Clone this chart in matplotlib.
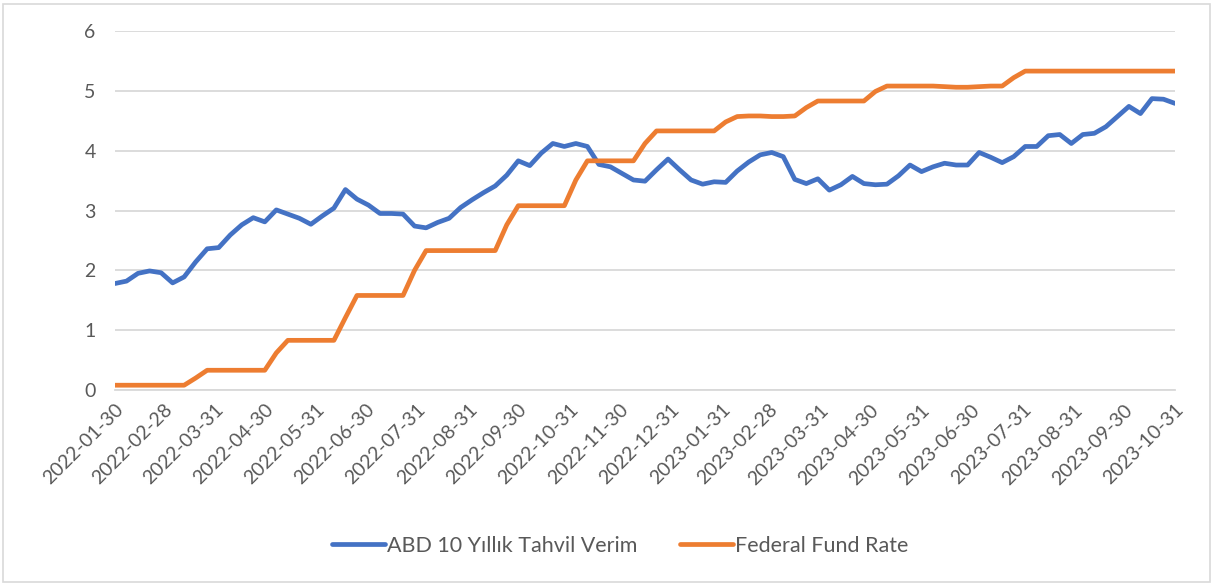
import matplotlib
matplotlib.use("Agg")
import matplotlib.pyplot as plt
import matplotlib.patches as patches
import pandas as pd
import numpy as np

# ---- data ----
start_date = "2022-01-30"
end_date = "2023-10-31"
n_points = 93

treasury_10y = [1.78, 1.82, 1.95, 1.99, 1.96, 1.79, 1.89, 2.14, 2.36, 2.38,
                2.59, 2.76, 2.88, 2.81, 3.01, 2.94, 2.87, 2.77, 2.91, 3.04,
                3.35, 3.19, 3.09, 2.95, 2.95, 2.94, 2.74, 2.71, 2.80, 2.87,
                3.05, 3.18, 3.30, 3.41, 3.59, 3.83, 3.75, 3.96, 4.12, 4.07,
                4.12, 4.07, 3.77, 3.73, 3.62, 3.51, 3.49, 3.68, 3.86, 3.68,
                3.51, 3.44, 3.48, 3.47, 3.66, 3.81, 3.93, 3.97, 3.90, 3.52,
                3.45, 3.53, 3.34, 3.43, 3.57, 3.45, 3.43, 3.44, 3.58, 3.76,
                3.65, 3.73, 3.79, 3.76, 3.76, 3.97, 3.89, 3.80, 3.90, 4.07,
                4.07, 4.25, 4.27, 4.12, 4.27, 4.29, 4.40, 4.57, 4.74, 4.62,
                4.87, 4.86, 4.79]

fed_funds = [0.08, 0.08, 0.08, 0.08, 0.08, 0.08, 0.08, 0.20,
             0.33, 0.33, 0.33, 0.33, 0.33, 0.33, 0.62,
             0.83, 0.83, 0.83, 0.83, 0.83, 1.21,
             1.58, 1.58, 1.58, 1.58, 1.58, 2.00,
             2.33, 2.33, 2.33, 2.33, 2.33, 2.33, 2.33, 2.76,
             3.08, 3.08, 3.08, 3.08, 3.08, 3.51,
             3.83, 3.83, 3.83, 3.83, 3.83, 4.12,
             4.33, 4.33, 4.33, 4.33, 4.33, 4.33, 4.48,
             4.57, 4.58, 4.58, 4.57, 4.57, 4.58, 4.72,
             4.83, 4.83, 4.83, 4.83, 4.83, 4.99,
             5.08, 5.08, 5.08, 5.08, 5.08, 5.07, 5.06, 5.06, 5.07, 5.08, 5.08, 5.22,
             5.33, 5.33, 5.33, 5.33, 5.33, 5.33, 5.33, 5.33, 5.33, 5.33, 5.33, 5.33, 5.33, 5.33]

tick_labels = ["2022-01-30", "2022-02-28", "2022-03-31", "2022-04-30", "2022-05-31",
               "2022-06-30", "2022-07-31", "2022-08-31", "2022-09-30", "2022-10-31",
               "2022-11-30", "2022-12-31", "2023-01-31", "2023-02-28", "2023-03-31",
               "2023-04-30", "2023-05-31", "2023-06-30", "2023-07-31", "2023-08-31",
               "2023-09-30", "2023-10-31"]

series_names = ["ABD 10 Yıllık Tahvil Verim", "Federal Fund Rate"]
y_ticks = [0, 1, 2, 3, 4, 5, 6]

# ---- figure ----
plt.rcParams['font.family'] = ['Lato', 'DejaVu Sans']
W, H = 1214, 585
fig = plt.figure(figsize=(W / 100, H / 100), dpi=100)
fig.patch.set_facecolor("white")

# chart border
fig.patches.append(patches.Rectangle((3 / W, 3 / H), 1 - 7 / W, 1 - 7 / H,
                                     transform=fig.transFigure, fill=False,
                                     edgecolor="#d9d9d9", linewidth=1.2))

left, right, top, bottom = 115, 1175, 31, 390
ax = fig.add_axes([left / W, 1 - bottom / H, (right - left) / W, (bottom - top) / H])

dates = pd.date_range(start=start_date, end=end_date, periods=n_points)
x = matplotlib.dates.date2num(dates)

blue = "#4472C4"
orange = "#ED7D31"
text_color = "#595959"

ax.plot(x, treasury_10y, color=blue, linewidth=3.4, solid_capstyle="round",
        solid_joinstyle="round", label=series_names[0], zorder=3)
ax.plot(x, fed_funds, color=orange, linewidth=3.4, solid_capstyle="round",
        solid_joinstyle="round", label=series_names[1], zorder=3)

ax.set_xlim(x[0], x[-1])
ax.set_ylim(0, 6)
ax.set_yticks(y_ticks)
ax.set_yticklabels([str(v) for v in y_ticks])
ax.yaxis.grid(True, color="#d9d9d9", linewidth=1.3)
ax.set_axisbelow(True)

tick_pos = matplotlib.dates.date2num(pd.to_datetime(tick_labels))
ax.set_xticks(tick_pos)
ax.set_xticklabels(tick_labels, rotation=45, ha="right", va="top",
                   rotation_mode="anchor")

for s in ["left", "right", "top"]:
    ax.spines[s].set_visible(False)
ax.spines["bottom"].set_color("#d9d9d9")
ax.spines["bottom"].set_linewidth(1.3)
ax.tick_params(axis="both", length=0, colors=text_color, labelsize=14)
ax.tick_params(axis="y", pad=14)
ax.tick_params(axis="x", pad=8)

leg = fig.legend(loc="center", bbox_to_anchor=(0.511, 1 - 546 / H), ncol=2,
                 frameon=False, fontsize=15.5, handlelength=2.45, handletextpad=0.12,
                 columnspacing=1.95)
for t in leg.get_texts():
    t.set_color(text_color)
for line in leg.get_lines():
    line.set_linewidth(3.4)

fig.savefig("out.png", dpi=100, facecolor="white")
